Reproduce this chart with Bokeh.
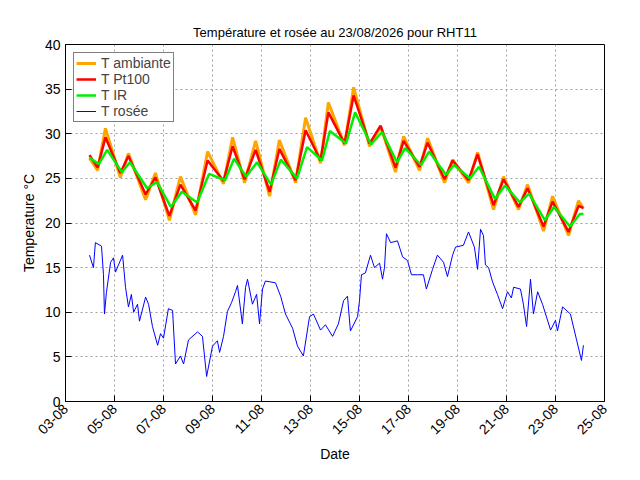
import pandas as pd
from bokeh.plotting import figure
from bokeh.models import FixedTicker, DatetimeTickFormatter, Range1d, Legend, LegendItem
from bokeh.embed import file_html
from bokeh.resources import INLINE

# day-of-month (August 2026) and temperatures
t_days = [3.98, 4.31, 4.63, 5.24, 5.57, 6.27, 6.67, 7.24, 7.69, 8.31, 8.80, 9.45, 9.82, 10.31, 10.76,
          11.33, 11.73, 12.39, 12.80, 13.41, 13.73, 14.39, 14.76, 15.41, 15.86, 16.47, 16.80, 17.45,
          17.78, 18.47, 18.80, 19.45, 19.82, 20.47, 20.88, 21.49, 21.86, 22.51, 22.88, 23.53, 23.94, 24.14]
t_amb = [27.3, 25.9, 30.6, 25.1, 27.8, 22.6, 25.6, 20.3, 25.2, 20.9, 28.0, 24.4, 29.6, 24.5, 29.2, 23.0,
         29.3, 24.5, 31.8, 26.7, 33.5, 28.7, 35.2, 28.6, 30.8, 25.7, 29.7, 25.9, 29.5, 24.5, 27.1, 24.5,
         27.9, 21.5, 25.2, 21.5, 24.3, 19.1, 23.0, 18.6, 22.5, 21.6]
t_pt100 = [27.6, 26.2, 29.6, 25.6, 27.5, 23.2, 25.1, 20.8, 24.3, 21.4, 27.0, 24.7, 28.6, 24.9, 28.2, 23.5,
           28.3, 24.8, 30.4, 27.0, 32.4, 28.9, 34.3, 28.9, 30.9, 26.2, 29.2, 26.3, 29.0, 24.9, 27.0, 24.8,
           27.7, 22.0, 24.9, 21.8, 23.9, 19.6, 22.4, 19.0, 21.9, 21.7]
ir_days = [3.98, 4.36, 4.70, 5.30, 5.63, 6.33, 6.73, 7.30, 7.75, 8.37, 8.86, 9.51, 9.88, 10.37, 10.82,
           11.39, 11.79, 12.45, 12.86, 13.47, 13.79, 14.45, 14.82, 15.47, 15.92, 16.53, 16.86, 17.51,
           17.84, 18.53, 18.86, 19.51, 19.88, 20.53, 20.94, 21.55, 21.92, 22.57, 22.94, 23.59, 24.00, 24.14]
t_ir = [27.3, 26.6, 28.2, 25.7, 26.8, 23.9, 24.6, 21.8, 23.5, 22.3, 25.5, 24.8, 27.2, 25.2, 26.8, 24.3,
        27.1, 25.0, 28.5, 27.0, 30.3, 28.9, 32.4, 28.8, 30.2, 26.8, 28.4, 26.5, 28.0, 25.4, 26.5, 25.0,
        26.3, 22.7, 24.2, 22.3, 23.3, 20.3, 21.8, 19.6, 21.0, 21.0]
dew_days = [3.98, 4.14, 4.22, 4.47, 4.55, 4.59, 4.67, 4.84, 4.96, 5.04, 5.33, 5.45, 5.57, 5.69, 5.78, 5.94,
            6.02, 6.27, 6.39, 6.55, 6.76, 6.88, 7.00, 7.20, 7.37, 7.49, 7.69, 7.82, 8.02, 8.39, 8.59, 8.76,
            9.00, 9.20, 9.29, 9.45, 9.61, 9.78, 9.94, 10.02, 10.22, 10.35, 10.43, 10.63, 10.80, 10.92,
            11.04, 11.16, 11.57, 11.78, 11.98, 12.27, 12.47, 12.71, 12.96, 13.12, 13.41, 13.61, 13.90,
            14.14, 14.35, 14.51, 14.63, 14.92, 15.00, 15.08, 15.24, 15.45, 15.61, 15.82, 15.94, 16.02,
            16.10, 16.27, 16.55, 16.76, 16.96, 17.12, 17.37, 17.61, 17.73, 17.98, 18.18, 18.43, 18.59,
            18.80, 18.92, 19.24, 19.45, 19.69, 19.82, 19.94, 20.06, 20.14, 20.27, 20.43, 20.63, 20.84,
            21.04, 21.20, 21.29, 21.57, 21.69, 21.82, 21.98, 22.10, 22.27, 22.47, 22.80, 23.00, 23.08,
            23.29, 23.61, 23.86, 24.06, 24.14]
t_dew = [16.4, 15.0, 17.8, 17.4, 14.2, 9.8, 12.2, 15.6, 16.1, 14.5, 16.4, 12.8, 10.6, 12.0, 10.0, 10.9,
         9.0, 11.7, 10.9, 8.4, 6.3, 7.6, 7.1, 10.4, 10.2, 4.2, 5.1, 4.2, 6.9, 7.8, 7.3, 2.8,
         6.2, 6.8, 5.5, 7.3, 10.1, 11.1, 12.3, 13.0, 8.7, 12.8, 13.7, 10.9, 12.0, 8.7,
         12.6, 13.5, 13.3, 11.8, 9.8, 8.2, 6.2, 5.1, 9.5, 9.8, 8.0, 8.6, 7.3,
         8.7, 11.3, 11.8, 7.9, 9.5, 11.3, 14.2, 14.4, 16.4, 15.0, 15.5, 13.7, 15.0,
         18.8, 17.8, 18.0, 16.2, 15.8, 14.2, 14.2, 14.2, 12.6, 14.8, 16.4, 15.6, 14.0,
         16.4, 17.3, 17.5, 19.0, 17.3, 14.8, 19.3, 18.6, 15.3, 15.0, 13.4, 12.0, 10.4,
         12.3, 11.6, 12.8, 12.6, 10.9, 8.4, 13.7, 9.8, 12.3, 10.9, 8.0, 9.1, 7.9,
         10.6, 9.8, 6.9, 4.6, 6.3]
tick_days = [3, 5, 7, 9, 11, 13, 15, 17, 19, 21, 23, 25]

base = pd.Timestamp("2026-08-01")
def to_dt(days):
    return [base + pd.to_timedelta(d - 1, unit="D") for d in days]
def to_ms(days):
    return [(base + pd.to_timedelta(d - 1, unit="D")).value / 1e6 for d in days]

FONT = "Liberation Sans"
p = figure(width=624, height=464, output_backend="svg", toolbar_location=None,
           x_axis_type="datetime",
           title="Température et rosée au 23/08/2026 pour RHT11",
           min_border_left=65, min_border_right=20, min_border_top=44, min_border_bottom=54)
p.x_range = Range1d(*to_ms([3, 25]))
p.y_range = Range1d(0, 40)
p.title.align = "center"
p.title.text_font = FONT
p.title.text_font_size = "13px"
p.title.text_font_style = "normal"
p.title.text_color = "black"

r1 = p.line(to_dt(t_days), t_amb, color="#ffa500", line_width=3)
r2 = p.line(to_dt(t_days), t_pt100, color="#ff0000", line_width=2.5)
r3 = p.line(to_dt(ir_days), t_ir, color="#00ee00", line_width=2.5)
r4 = p.line(to_dt(dew_days), t_dew, color="#0000ff", line_width=1)

p.xaxis.ticker = FixedTicker(ticks=to_ms(tick_days))
p.xaxis.formatter = DatetimeTickFormatter(days="%d-%m", months="%d-%m", hours="%d-%m")
p.xaxis.major_label_orientation = 0.785
p.yaxis.ticker = FixedTicker(ticks=list(range(0, 41, 5)))
p.xaxis.axis_label = "Date"
p.yaxis.axis_label = "Temperature °C"
for ax in (p.xaxis, p.yaxis):
    ax.axis_label_text_font = FONT
    ax.axis_label_text_font_style = "normal"
    ax.axis_label_text_font_size = "14px"
    ax.axis_label_text_color = "black"
    ax.major_label_text_font = FONT
    ax.major_label_text_font_size = "14px"
    ax.major_label_text_color = "black"
    ax.major_tick_in = 6
    ax.major_tick_out = 0
    ax.minor_tick_line_color = None
    ax.axis_line_color = "black"
p.xaxis.axis_label_standoff = 4
for g in (p.xgrid, p.ygrid):
    g.grid_line_color = "#a0a0a0"
    g.grid_line_dash = "2 3"
p.outline_line_color = "black"
p.outline_line_alpha = 1

legend = Legend(items=[LegendItem(label="T ambiante", renderers=[r1]),
                       LegendItem(label="T Pt100", renderers=[r2]),
                       LegendItem(label="T IR", renderers=[r3]),
                       LegendItem(label="T rosée", renderers=[r4])],
                location="top_left")
legend.label_text_font = FONT
legend.label_text_font_size = "14px"
legend.label_height = 12
legend.glyph_height = 12
legend.spacing = 0
legend.padding = 2
legend.margin = 8
legend.border_line_color = "black"
legend.background_fill_alpha = 1
p.add_layout(legend)

open("out.html", "w").write(file_html(p, INLINE))
